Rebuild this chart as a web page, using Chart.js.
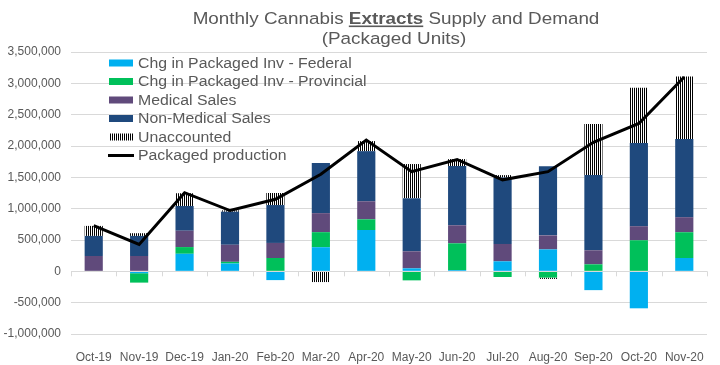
<!DOCTYPE html>
<html>
<head>
<meta charset="utf-8">
<script src="https://cdn.jsdelivr.net/npm/chart.js@4.4.1/dist/chart.umd.min.js"></script>
<style>
    body { margin: 0; background: #fff; }
    #wrap { width: 720px; height: 365px; position: relative; }
</style>
</head>
<body>
<div id="wrap"><canvas id="extractsChart"></canvas></div>
<script>
// Dados (unidades embaladas)
const months = ['Oct-19', 'Nov-19', 'Dec-19', 'Jan-20', 'Feb-20', 'Mar-20', 'Apr-20',
    'May-20', 'Jun-20', 'Jul-20', 'Aug-20', 'Sep-20', 'Oct-20', 'Nov-20'];
const federalInv = [0, -30000, 280000, 125000, -140000, 385000, 660000, 48000, 20000, 160000, 350000, -300000, -590000, 213000];
const provincialInv = [0, -150000, 107000, 27000, 213000, 240000, 170000, -144000, 427000, -90000, -100000, 112000, 496000, 411000];
const medicalSales = [245000, 245000, 261000, 272000, 240000, 304000, 288000, 272000, 288000, 277000, 224000, 224000, 224000, 240000];
const nonMedicalSales = [320000, 320000, 395000, 528000, 605000, 800000, 800000, 848000, 944000, 1061000, 1104000, 1200000, 1328000, 1248000];
const unaccounted = [160000, 43000, 203000, 21000, 192000, -171000, 160000, 544000, 112000, 37000, -21000, 816000, 880000, 997000];
const packagedProduction = [730000, 430000, 1255000, 970000, 1150000, 1550000, 2095000, 1590000, 1785000, 1460000, 1590000, 2060000, 2360000, 3100000];
const yTicks = [-1000000, -500000, 0, 500000, 1000000, 1500000, 2000000, 2500000, 3000000, 3500000];

const FONT = '"Liberation Sans", Arial, sans-serif';
const TEXT_COLOR = '#595959';
const GRID_COLOR = '#d9d9d9';
const STRETCH = 1.13; // o texto do original é um pouco mais largo que alto

// Padrão listrado para "Unaccounted"
function makeStripes() {
    const c = document.createElement('canvas');
    c.width = 2;
    c.height = 2;
    const g = c.getContext('2d');
    g.fillStyle = '#ffffff';
    g.fillRect(0, 0, 2, 2);
    g.fillStyle = '#000000';
    g.fillRect(0, 0, 1, 2);
    return g.createPattern(c, 'repeat');
}
const stripes = makeStripes();

// Escreve texto esticado na horizontal
function wideText(ctx, text, x, y) {
    ctx.save();
    ctx.translate(x, y);
    ctx.scale(STRETCH, 1);
    ctx.fillText(text, 0, 0);
    ctx.restore();
}

// Título com a palavra "Extracts" em negrito e sublinhada
const titlePlugin = {
    id: 'titlePlugin',
    afterDraw(chart) {
        const ctx = chart.ctx;
        const cx = (chart.chartArea.left + chart.chartArea.right) / 2 + 7;
        const size = '16.7px ';
        const parts = [
            { t: 'Monthly Cannabis ', bold: false },
            { t: 'Extracts', bold: true },
            { t: ' Supply and Demand', bold: false }
        ];
        ctx.save();
        ctx.fillStyle = TEXT_COLOR;
        ctx.textBaseline = 'alphabetic';
        ctx.textAlign = 'left';
        let total = 0;
        parts.forEach(p => {
            ctx.font = (p.bold ? 'bold ' : '') + size + FONT;
            p.w = ctx.measureText(p.t).width * STRETCH;
            total += p.w;
        });
        let x = cx - total / 2;
        parts.forEach(p => {
            ctx.font = (p.bold ? 'bold ' : '') + size + FONT;
            wideText(ctx, p.t, x, 24);
            if (p.bold) {
                ctx.fillRect(x, 25.5, p.w, 1.6);
            }
            x += p.w;
        });
        ctx.font = size + FONT;
        const sub = '(Packaged Units)';
        const sw = ctx.measureText(sub).width * STRETCH;
        wideText(ctx, sub, cx - 2 - sw / 2, 43.5);
        ctx.restore();
    }
};

// Marcas do eixo x na linha do zero e legenda dentro da área do gráfico
const axisLegendPlugin = {
    id: 'axisLegendPlugin',
    afterDatasetsDraw(chart) {
        const ctx = chart.ctx;
        const xs = chart.scales.x;
        const y0 = chart.scales.y.getPixelForValue(0);
        const step = (xs.right - xs.left) / months.length;
        ctx.save();
        ctx.strokeStyle = GRID_COLOR;
        ctx.lineWidth = 1;
        ctx.beginPath();
        ctx.moveTo(xs.left, Math.round(y0) + 0.5);
        ctx.lineTo(xs.right, Math.round(y0) + 0.5);
        for (let i = 0; i <= months.length; i++) {
            const x = Math.round(xs.left + i * step) + 0.5;
            ctx.moveTo(x, y0);
            ctx.lineTo(x, y0 + 5);
        }
        ctx.stroke();

        // Legenda
        const left = chart.chartArea.left + 38;
        const top = 63;
        const rowH = 18.5;
        ctx.font = '14px ' + FONT;
        ctx.textBaseline = 'middle';
        ctx.textAlign = 'left';
        chart.data.datasets.forEach((ds, i) => {
            const y = top + i * rowH;
            if (ds.type === 'line') {
                ctx.strokeStyle = ds.borderColor;
                ctx.lineWidth = 3;
                ctx.beginPath();
                ctx.moveTo(left - 1, y);
                ctx.lineTo(left + 25, y);
                ctx.stroke();
            } else {
                ctx.fillStyle = ds.backgroundColor;
                ctx.fillRect(left, y - 3.5, 24, 7);
            }
            ctx.fillStyle = TEXT_COLOR;
            wideText(ctx, ds.label, left + 29, y + 1);
        });
        ctx.restore();
    }
};

function barSet(label, data, color) {
    return {
        type: 'bar',
        label: label,
        data: data,
        backgroundColor: color,
        stack: 'supply',
        order: 1,
        categoryPercentage: 1,
        barPercentage: 0.4
    };
}

const ctx = document.getElementById('extractsChart').getContext('2d');
new Chart(ctx, {
    data: {
        labels: months,
        datasets: [
            barSet('Chg in Packaged Inv - Federal', federalInv, '#00b0f0'),
            barSet('Chg in Packaged Inv - Provincial', provincialInv, '#00c05a'),
            barSet('Medical Sales', medicalSales, '#604a7b'),
            barSet('Non-Medical Sales', nonMedicalSales, '#1f497d'),
            barSet('Unaccounted', unaccounted, stripes),
            {
                type: 'line',
                label: 'Packaged production',
                data: packagedProduction,
                borderColor: '#000000',
                borderWidth: 3,
                pointRadius: 0,
                tension: 0,
                fill: false,
                stack: 'line',
                order: 0
            }
        ]
    },
    options: {
        responsive: true,
        maintainAspectRatio: false,
        animation: false,
        layout: { padding: { top: 52, right: 13, bottom: 0, left: 0 } },
        plugins: {
            legend: { display: false },
            title: { display: false },
            tooltip: { enabled: false }
        },
        scales: {
            x: {
                stacked: true,
                grid: { display: false },
                border: { display: false },
                ticks: {
                    color: TEXT_COLOR,
                    font: { family: FONT, size: 12 },
                    padding: 8,
                    maxRotation: 0,
                    autoSkip: false
                },
                afterFit: function(scale) { scale.height = 31; }
            },
            y: {
                stacked: true,
                min: -1000000,
                max: 3500000,
                afterBuildTicks: function(scale) {
                    scale.ticks = yTicks.map(v => ({ value: v }));
                },
                grid: { color: GRID_COLOR, drawTicks: false },
                border: { display: false },
                ticks: {
                    color: TEXT_COLOR,
                    font: { family: FONT, size: 12 },
                    padding: 10,
                    callback: function(value) {
                        return value.toLocaleString('en-US');
                    }
                },
                afterFit: function(scale) { scale.width = 71; }
            }
        }
    },
    plugins: [titlePlugin, axisLegendPlugin]
});
</script>
</body>
</html>
